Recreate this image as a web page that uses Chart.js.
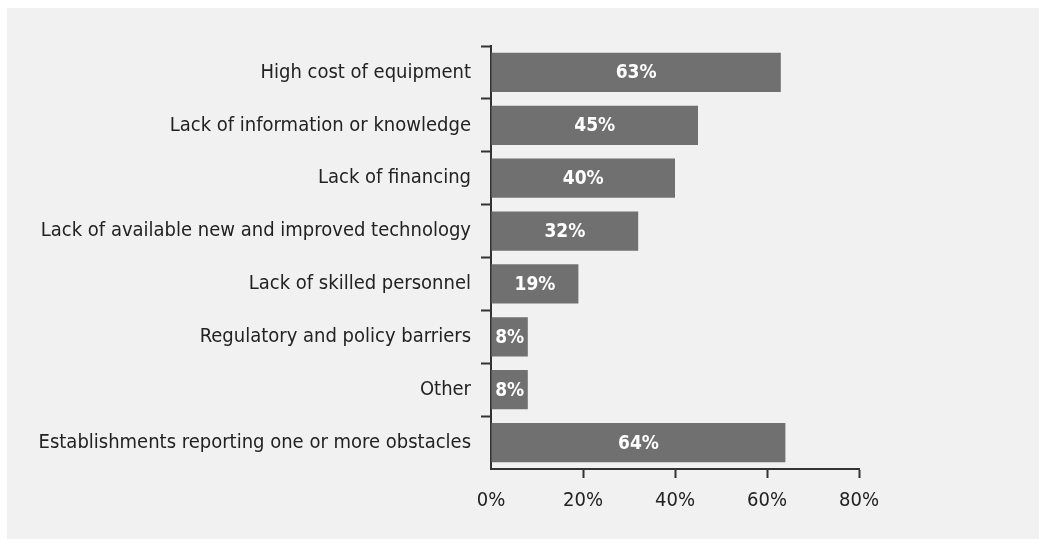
<!DOCTYPE html>
<html>
<head>
<meta charset="utf-8">
<script src="https://cdn.jsdelivr.net/npm/chart.js@4"></script>
<style>
  html, body { margin: 0; padding: 0; background: #ffffff; }
  #wrap { position: absolute; left: 7px; top: 8px; width: 1032px; height: 531px; background: #f1f1f1; }
</style>
</head>
<body>
<div id="wrap"><canvas id="obstacles" width="1032" height="531"></canvas></div>
<script>
const categories = [
  "High cost of equipment",
  "Lack of information or knowledge",
  "Lack of financing",
  "Lack of available new and improved technology",
  "Lack of skilled personnel",
  "Regulatory and policy barriers",
  "Other",
  "Establishments reporting one or more obstacles"
];
const shares = [63, 45, 40, 32, 19, 8, 8, 64];
const xTicks = [0, 20, 40, 60, 80];

const FONT = "'DejaVu Sans Condensed', 'DejaVu Sans', sans-serif";
const AXIS = "#333333";

// white percentage written in the middle of each bar
const barLabels = {
  id: "barLabels",
  afterDatasetsDraw(chart) {
    const ctx = chart.ctx;
    const meta = chart.getDatasetMeta(0);
    ctx.save();
    ctx.fillStyle = "#ffffff";
    ctx.font = "bold 19px " + FONT;
    ctx.textAlign = "center";
    ctx.textBaseline = "middle";
    meta.data.forEach((bar, i) => {
      const cx = (bar.base + bar.x) / 2;
      ctx.fillText(shares[i] + "%", cx, bar.y + 1);
    });
    ctx.restore();
  }
};

new Chart(document.getElementById("obstacles"), {
  type: "bar",
  data: {
    labels: categories,
    datasets: [{
      data: shares,
      backgroundColor: "#707070",
      borderWidth: 0,
      categoryPercentage: 1,
      barPercentage: 0.74
    }]
  },
  options: {
    indexAxis: "y",
    responsive: false,
    animation: false,
    layout: { padding: { top: 38, right: 180, bottom: 20, left: 0 } },
    plugins: { legend: { display: false }, tooltip: { enabled: false } },
    scales: {
      x: {
        min: 0,
        max: 80,
        afterBuildTicks(scale) { scale.ticks = xTicks.map(v => ({ value: v })); },
        afterFit(scale) { scale.height = 50; },
        ticks: {
          callback: v => v + "%",
          color: "#222222",
          font: { family: FONT, size: 20 },
          padding: 11
        },
        grid: {
          drawOnChartArea: false,
          drawTicks: true,
          tickLength: 9,
          tickWidth: 2,
          // no tick mark under the origin
          color: c => (c.tick && c.tick.value === 0) ? "rgba(0,0,0,0)" : AXIS
        },
        border: { display: true, color: AXIS, width: 2 }
      },
      y: {
        afterFit(scale) { scale.width = 484; },
        ticks: {
          color: "#222222",
          font: { family: FONT, size: 20 },
          padding: 10
        },
        grid: {
          drawOnChartArea: false,
          drawTicks: true,
          tickLength: 10,
          tickWidth: 2,
          offset: true,
          // the closing line below the last category is left out
          color: c => c.type === "tick" ? AXIS : "rgba(0,0,0,0)"
        },
        border: { display: true, color: AXIS, width: 2 }
      }
    }
  },
  plugins: [barLabels]
});
</script>
</body>
</html>
